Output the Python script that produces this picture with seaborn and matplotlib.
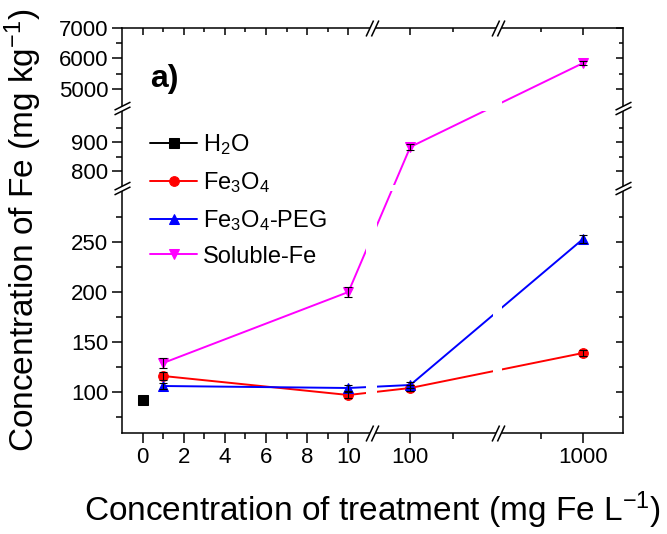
import numpy as np
import matplotlib
matplotlib.use("Agg")
import matplotlib.pyplot as plt
from matplotlib.path import Path
import seaborn as sns

# data
conc_h2o = [0]
fe_h2o = [92]
conc = [1, 10, 100, 1000]
fe3o4 = [116, 97, 104, 139]
fe3o4_peg = [106, 104, 107, 253]
soluble_fe = [129, 200, 883, 5850]
err_h2o = [2]
err_fe3o4 = [4, 3, 3, 3]
err_peg = [3, 3, 3, 4]
err_soluble = [5, 5, 12, 70]

labels = ["H$_2$O", "Fe$_3$O$_4$", "Fe$_3$O$_4$-PEG", "Soluble-Fe"]
colors = ["black", "red", "blue", "magenta"]
markers = ["s", "o", "^", "v"]

x_ticks = [0, 2, 4, 6, 8, 10, 100, 1000]
x_minor = [1, 3, 5, 7, 9, 150, 750]
y_ticks = [100, 150, 200, 250, 800, 900, 5000, 6000, 7000]
y_minor = [75, 125, 175, 225, 275, 850, 950, 5500, 6500]

# broken axes as a piecewise linear scale (data value -> pixel units)
x_knots = [-1, 10.87, 61.6, 196.5, 518, 1238]
x_pix = [121.4, 366, 377, 493, 502, 623]
y_knots = [59, 301, 752, 1007, 4475, 7000]
y_pix = [0, 242, 248, 322, 328, 405]


def fx(v):
    return np.interp(v, x_knots, x_pix)


def ix(u):
    return np.interp(u, x_pix, x_knots)


def fy(v):
    return np.interp(v, y_knots, y_pix)


def iy(u):
    return np.interp(u, y_pix, y_knots)


sns.set_style("ticks")
plt.rcParams["font.family"] = ["Liberation Sans", "DejaVu Sans"]
plt.rcParams["mathtext.fontset"] = "custom"
plt.rcParams["mathtext.rm"] = "Liberation Sans"
plt.rcParams["mathtext.it"] = "Liberation Sans:italic"
plt.rcParams["mathtext.bf"] = "Liberation Sans:bold"
plt.rcParams["text.color"] = "black"
plt.rcParams["axes.labelcolor"] = "black"

fig = plt.figure(figsize=(6.67, 5.34), dpi=100)
ax = fig.add_axes([122 / 667, 101 / 534, 501 / 667, 405 / 534])
ax.set_xscale("function", functions=(fx, ix))
ax.set_yscale("function", functions=(fy, iy))

series = [
    (conc_h2o, fe_h2o, err_h2o),
    (conc, fe3o4, err_fe3o4),
    (conc, fe3o4_peg, err_peg),
    (conc, soluble_fe, err_soluble),
]
for (xs, ys, es), lab, c, m in zip(series, labels, colors, markers):
    sns.lineplot(x=xs, y=ys, ax=ax, color=c, marker=m, markersize=7,
                 markeredgecolor=c, linewidth=1.4, label=lab, errorbar=None,
                 zorder=2)
    ax.errorbar(xs, ys, yerr=es, fmt="none", ecolor="black", elinewidth=0.8,
                capsize=3, capthick=0.8, zorder=3)

ax.set_xlim(x_knots[0], x_knots[-1])
ax.set_ylim(y_knots[0], y_knots[-1])

# white gaps where the axes are broken
for a, b in [(x_knots[1], x_knots[2]), (x_knots[3], x_knots[4])]:
    ax.axvspan(a, b, color="white", lw=0, zorder=2.1)
for a, b in [(y_knots[1], y_knots[2]), (y_knots[3], y_knots[4])]:
    ax.axhspan(a, b, color="white", lw=0, zorder=2.1)

ax.set_xticks(x_ticks, labels=[str(t) for t in x_ticks])
ax.set_xticks(x_minor, minor=True)
ax.set_yticks(y_ticks, labels=[str(t) for t in y_ticks])
ax.set_yticks(y_minor, minor=True)
ax.tick_params(which="major", direction="out", length=7, width=1.1,
               labelsize=16, pad=3, colors="black")
ax.tick_params(which="minor", direction="out", length=4, width=1.1,
               colors="black")
for s in ax.spines.values():
    s.set_linewidth(1.1)
    s.set_color("black")
    s.set_visible(True)

top = ax.twiny()
top.set_xscale("function", functions=(fx, ix))
top.set_xlim(x_knots[0], x_knots[-1])
top.set_xticks(x_ticks, labels=[])
top.set_xticks(x_minor, minor=True)
right = ax.twinx()
right.set_yscale("function", functions=(fy, iy))
right.set_ylim(y_knots[0], y_knots[-1])
right.set_yticks(y_ticks, labels=[])
right.set_yticks(y_minor, minor=True)
for t in (top, right):
    t.tick_params(which="major", direction="in", length=5, width=1.1,
                  colors="black")
    t.tick_params(which="minor", direction="in", length=3, width=1.1,
                  colors="black")
    for s in t.spines.values():
        s.set_visible(False)


# break marks
def marks(steep):
    if steep:
        ln = [(-6, -7.5), (1, 7.5), (-1, -7.5), (6, 7.5)]
        fl = [(-6, -7.5), (1, 7.5), (6, 7.5), (-1, -7.5), (-6, -7.5)]
    else:
        ln = [(-7.5, -6), (7.5, 1.5), (-7.5, -1.5), (7.5, 6)]
        fl = [(-7.5, -6), (7.5, 1.5), (7.5, 6), (-7.5, -1.5), (-7.5, -6)]
    codes = [Path.MOVETO, Path.LINETO, Path.MOVETO, Path.LINETO]
    return Path(ln, codes), Path(fl, closed=True)


xb = [ix(371.5), ix(497.5)]
yb = [iy(245), iy(325)]
steep_ln, steep_fl = marks(True)
flat_ln, flat_fl = marks(False)
for bx, by, lnp, flp in [
    (xb * 2, [y_knots[0]] * 2 + [y_knots[-1]] * 2, steep_ln, steep_fl),
    ([x_knots[0]] * 2 + [x_knots[-1]] * 2, yb * 2, flat_ln, flat_fl),
]:
    ax.plot(bx, by, ls="none", marker=flp, ms=11.5, mfc="white", mec="none",
            clip_on=False, zorder=6)
    ax.plot(bx, by, ls="none", marker=lnp, ms=11.5, mfc="none", mec="black",
            mew=1.1, clip_on=False, zorder=7)

ax.legend(loc="upper left", bbox_to_anchor=(0.056, 0.743), frameon=False,
          fontsize=17, handlelength=2.0, handletextpad=0.25,
          labelspacing=0.55, borderpad=0, borderaxespad=0)
ax.text(0.056, 0.855, "a)", transform=ax.transAxes, fontsize=23,
        fontweight="bold", va="baseline")

ax.set_xlabel("Concentration of treatment (mg Fe L$^{-1}$)", fontsize=24)
ax.set_ylabel("Concentration of Fe (mg kg$^{-1}$)", fontsize=24)
ax.xaxis.set_label_coords(0.5, -0.14)
ax.yaxis.set_label_coords(-0.155, 0.5)

fig.savefig("out.png", dpi=100)
